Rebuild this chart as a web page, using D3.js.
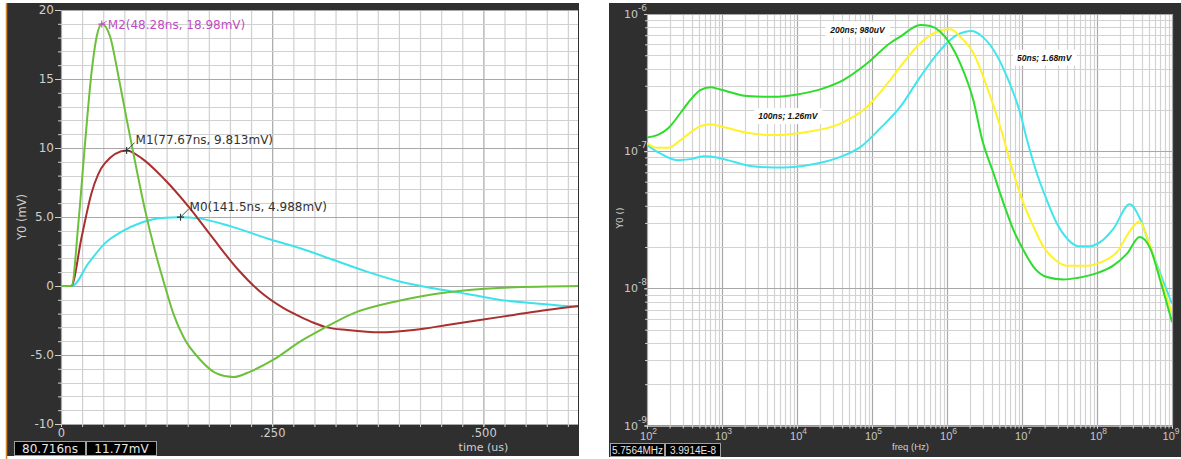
<!DOCTYPE html>
<html>
<head>
<meta charset="utf-8">
<script src="https://d3js.org/d3.v7.min.js"></script>
<style>
    body { margin: 0; background: #fff; }
    svg { display: block; }
</style>
</head>
<body>
<script>
    // ---- transient plot (time in us, value in mV)
    var pulseM2 = [[0, 0], [0.0125, 0], [0.0205, 4.5], [0.0284, 10.3], [0.0364, 15.6], [0.0423, 18.1],
        [0.0483, 18.98], [0.058, 18.1], [0.068, 15.2], [0.078, 12.0], [0.088, 8.9], [0.0995, 5.5],
        [0.111, 2.6], [0.123, 0], [0.133, -2.0], [0.145, -3.7], [0.165, -5.36], [0.184, -6.33],
        [0.204, -6.6], [0.224, -6.2], [0.251, -5.36], [0.283, -4.03], [0.307, -3.2], [0.346, -1.98],
        [0.40, -1.07], [0.458, -0.45], [0.518, -0.14], [0.612, 0]];
    var pulseM1 = [[0, 0], [0.012, 0], [0.0245, 3.57], [0.036, 6.7], [0.052, 8.9], [0.0777, 9.81],
        [0.0956, 9.25], [0.123, 7.7], [0.151, 5.75], [0.1785, 3.57], [0.21, 1.16], [0.238, -0.53],
        [0.262, -1.55], [0.283, -2.22], [0.299, -2.66], [0.315, -3.0], [0.339, -3.19], [0.378, -3.36],
        [0.417, -3.19], [0.457, -2.83], [0.496, -2.46], [0.536, -2.1], [0.575, -1.74], [0.612, -1.45]];
    var pulseM0 = [[0, 0], [0.013, 0], [0.0324, 1.64], [0.052, 3.09], [0.0719, 3.94], [0.0956, 4.6],
        [0.119, 4.93], [0.1415, 4.99], [0.163, 4.9], [0.202, 4.3], [0.25, 3.33], [0.283, 2.73],
        [0.323, 1.88], [0.362, 1.04], [0.402, 0.31], [0.441, -0.17], [0.481, -0.58], [0.52, -1.01],
        [0.56, -1.25], [0.599, -1.45], [0.612, -1.5]];
    var markers = [
        {name: "M2", t: 0.04828, v: 18.98, label: "M2(48.28ns, 18.98mV)"},
        {name: "M1", t: 0.07767, v: 9.813, label: "M1(77.67ns, 9.813mV)"},
        {name: "M0", t: 0.1415, v: 4.988, label: "M0(141.5ns, 4.988mV)"}
    ];
    var leftYTicks = [20, 15, 10, 5, 0, -5, -10];
    var leftYTickLabels = ["20", "15", "10", "5.0", "0", "-5.0", "-10"];
    var leftXTicks = [0, 0.25, 0.5];
    var leftXTickLabels = ["0", ".250", ".500"];
    var leftReadout = ["80.716ns", "11.77mV"];

    // ---- frequency plot (Hz, V)
    var resp200ns = [[100, 1.26e-7], [137, 1.31e-7], [192, 1.47e-7], [278, 1.89e-7], [378, 2.36e-7],
        [514, 2.79e-7], [698, 2.92e-7], [949, 2.82e-7], [2170, 2.52e-7], [4830, 2.49e-7], [10100, 2.59e-7],
        [22400, 2.87e-7], [41400, 3.30e-7], [86500, 4.37e-7], [175000, 6.14e-7], [238000, 6.83e-7],
        [440000, 8.32e-7], [598000, 8.17e-7], [815000, 7.43e-7], [1.5e6, 4.37e-7], [2.24e6, 2.36e-7],
        [2.96e6, 1.2e-7], [4.18e6, 6.87e-8], [5.69e6, 4.15e-8], [7.73e6, 2.65e-8], [1.05e7, 1.89e-8],
        [1.43e7, 1.43e-8], [2.15e7, 1.21e-8], [3.59e7, 1.16e-8], [5.41e7, 1.19e-8], [1.0e8, 1.29e-8],
        [1.66e8, 1.47e-8], [2.51e8, 1.79e-8], [3.7e8, 2.37e-8], [5.14e8, 1.95e-8], [6.98e8, 1.14e-8],
        [1e9, 5.67e-9]];
    var resp100ns = [[100, 1.14e-7], [136, 1.06e-7], [194, 1.06e-7], [278, 1.2e-7], [514, 1.52e-7],
        [698, 1.57e-7], [1050, 1.5e-7], [2150, 1.36e-7], [4880, 1.31e-7], [13600, 1.38e-7], [37800, 1.59e-7],
        [85700, 2.1e-7], [175000, 3.3e-7], [238000, 4.12e-7], [440000, 6.11e-7], [736000, 7.43e-7],
        [1.11e6, 7.73e-7], [1.5e6, 6.83e-7], [2.26e6, 5.16e-7], [3.41e6, 2.94e-7], [5.14e6, 1.5e-7],
        [7.73e6, 6.87e-8], [1.05e7, 4.15e-8], [1.43e7, 2.8e-8], [1.94e7, 2.0e-8], [2.64e7, 1.65e-8],
        [3.98e7, 1.46e-8], [7.36e7, 1.46e-8], [1.22e8, 1.58e-8], [1.85e8, 1.84e-8], [2.78e8, 2.65e-8],
        [3.7e8, 3.08e-8], [4.64e8, 2.37e-8], [6.31e8, 1.43e-8], [1e9, 6.53e-9]];
    var resp50ns = [[100, 1.11e-7], [150, 9.62e-8], [251, 8.59e-8], [378, 8.75e-8], [569, 9.2e-8],
        [858, 9.0e-8], [1430, 8.36e-8], [2380, 7.81e-8], [4880, 7.6e-8], [9010, 7.68e-8], [18500, 8.12e-8],
        [37800, 9.08e-8], [69800, 1.07e-7], [129000, 1.47e-7], [238000, 2.1e-7], [440000, 3.48e-7],
        [815000, 5.46e-7], [1.36e6, 7.03e-7], [2.15e6, 7.52e-7], [2.78e6, 7.03e-7], [4.18e6, 5.46e-7],
        [6.31e6, 3.48e-7], [9.49e6, 1.88e-7], [1.17e7, 1.2e-7], [1.58e7, 6.87e-8], [2.15e7, 4.38e-8],
        [2.93e7, 2.96e-8], [3.98e7, 2.31e-8], [5.69e7, 2.03e-8], [8.15e7, 2.03e-8], [1.11e8, 2.18e-8],
        [1.66e8, 2.73e-8], [2.72e8, 4.1e-8], [3.78e8, 3.19e-8], [5.14e8, 2.0e-8], [6.98e8, 1.28e-8],
        [1e9, 7.73e-9]];
    var rightNotes = [
        {text: "200ns; 980uV", f: 2.78e4, v: 7.7e-7},
        {text: "100ns; 1.26mV", f: 3.05e3, v: 1.8e-7},
        {text: "50ns; 1.68mV", f: 8.58e6, v: 4.8e-7}
    ];
    var rightXDecades = [2, 3, 4, 5, 6, 7, 8, 9];
    var rightYDecades = [-6, -7, -8, -9];
    var rightReadout = ["5.7564MHz", "3.9914E-8"];

    var SVGWidth = 1181;
    var SVGHeight = 459;
    var panelColor = "#2f2f2f";
    var labelColor = "#d0d0d0";
    var dejavu = "'DejaVu Sans', Verdana, sans-serif";
    var liberation = "'Liberation Sans', Arial, sans-serif";

    var svg = d3.select("body")
        .append("svg")
        .attr("width", SVGWidth)
        .attr("height", SVGHeight);

    // ================= LEFT: transient =================
    var lx = d3.scaleLinear().domain([0, 0.612]).range([61, 578]);
    var ly = d3.scaleLinear().domain([-10, 20]).range([424, 10]);

    svg.append("rect").attr("x", 7).attr("y", 3).attr("width", 572).attr("height", 453)
        .attr("fill", panelColor);
    svg.append("line").attr("x1", 6.5).attr("x2", 6.5).attr("y1", 3).attr("y2", 459)
        .attr("stroke", "#d8862e").attr("stroke-width", 1.5);
    svg.append("rect").attr("x", lx(0)).attr("y", ly(20))
        .attr("width", lx(0.612) - lx(0)).attr("height", ly(-10) - ly(20))
        .attr("fill", "#fff");

    svg.append("clipPath").attr("id", "clipL").append("rect")
        .attr("x", lx(0)).attr("y", ly(20))
        .attr("width", lx(0.612) - lx(0)).attr("height", ly(-10) - ly(20));

    var gridL = svg.append("g");
    gridL.selectAll(".vg").data(d3.range(0, 25))
        .enter().append("line")
        .attr("x1", function(i) { return lx(i * 0.025) + 0.5; })
        .attr("x2", function(i) { return lx(i * 0.025) + 0.5; })
        .attr("y1", ly(20)).attr("y2", ly(-10))
        .attr("stroke", function(i) { return i % 10 === 0 ? "#a8a8a8" : "#d0d0d0"; })
        .attr("stroke-width", 1.2);
    gridL.selectAll(".hg").data(d3.range(-10, 21))
        .enter().append("line")
        .attr("x1", lx(0)).attr("x2", lx(0.612))
        .attr("y1", function(d) { return Math.round(ly(d)) + 0.5; })
        .attr("y2", function(d) { return Math.round(ly(d)) + 0.5; })
        .attr("stroke", function(d) { return d % 5 === 0 ? "#a8a8a8" : "#d0d0d0"; })
        .attr("stroke-width", 1.2);

    function styleAxis(g, font, size) {
        g.select(".domain").remove();
        g.attr("font-family", font).attr("font-size", size);
        g.selectAll("text").attr("fill", labelColor);
        g.selectAll("line").attr("stroke", labelColor);
    }

    svg.append("g").attr("transform", "translate(" + lx(0) + ",0)")
        .call(d3.axisLeft(ly).tickValues(d3.range(-10, 21)).tickFormat("").tickSize(3))
        .call(styleAxis, dejavu, 12);
    svg.append("g").attr("transform", "translate(" + lx(0) + ",0)")
        .call(d3.axisLeft(ly).tickValues(leftYTicks)
            .tickFormat(function(d, i) { return leftYTickLabels[i]; })
            .tickSize(6).tickPadding(1))
        .call(styleAxis, dejavu, 12);
    svg.append("g").attr("transform", "translate(0," + ly(-10) + ")")
        .call(d3.axisBottom(lx).tickValues(d3.range(0, 25).map(function(i) { return i * 0.025; }))
            .tickFormat("").tickSize(3))
        .call(styleAxis, dejavu, 12);
    svg.append("g").attr("transform", "translate(0," + ly(-10) + ")")
        .call(d3.axisBottom(lx).tickValues(leftXTicks)
            .tickFormat(function(d, i) { return leftXTickLabels[i]; })
            .tickSize(3).tickPadding(1.5))
        .call(styleAxis, dejavu, 11.5);

    svg.append("text").attr("x", lx(0.5)).attr("y", 450.5)
        .attr("text-anchor", "middle").attr("font-family", dejavu).attr("font-size", 11)
        .attr("fill", labelColor).text("time (us)");
    svg.append("text").attr("transform", "translate(26,217) rotate(-90)")
        .attr("text-anchor", "middle").attr("font-family", dejavu).attr("font-size", 11.5)
        .attr("fill", labelColor).text("Y0 (mV)");

    var lineL = d3.line()
        .x(function(d) { return lx(d[0]); })
        .y(function(d) { return ly(d[1]); })
        .curve(d3.curveMonotoneX);
    var curvesL = svg.append("g").attr("clip-path", "url(#clipL)");
    [[pulseM0, "#3de3ea"], [pulseM1, "#a8302e"], [pulseM2, "#6cc03a"]].forEach(function(s) {
        curvesL.append("path").attr("d", lineL(s[0]))
            .attr("fill", "none").attr("stroke", s[1]).attr("stroke-width", 2);
    });

    // markers
    var markerStyle = {
        M2: {color: "#c04cc4", lead: [5, -3], text: [6, 4.5]},
        M1: {color: "#333333", lead: [8, -8], text: [9, -7]},
        M0: {color: "#333333", lead: [8, -8], text: [9, -6.5]}
    };
    markers.forEach(function(m) {
        var st = markerStyle[m.name];
        var cx = lx(m.t), cy = ly(m.v);
        var g = svg.append("g");
        g.append("path")
            .attr("d", "M" + (cx - 3.5) + "," + cy + "H" + (cx + 3.5) + "M" + cx + "," + (cy - 3.5) + "V" + (cy + 3.5))
            .attr("stroke", st.color).attr("stroke-width", 1.1);
        g.append("line").attr("x1", cx).attr("y1", cy)
            .attr("x2", cx + st.lead[0]).attr("y2", cy + st.lead[1])
            .attr("stroke", st.color).attr("stroke-width", 0.9);
        g.append("text").attr("x", cx + st.text[0]).attr("y", cy + st.text[1])
            .attr("font-family", dejavu).attr("font-size", 12)
            .attr("fill", st.color).text(m.label);
    });

    function readout(x, y, widths, h, texts, font, size) {
        var xs = x;
        texts.forEach(function(t, i) {
            svg.append("rect").attr("x", xs + 0.5).attr("y", y + 0.5)
                .attr("width", widths[i]).attr("height", h)
                .attr("fill", "#000").attr("stroke", "#a0a0a0").attr("stroke-width", 1);
            svg.append("text").attr("x", xs + widths[i] / 2 + 0.5).attr("y", y + h / 2 + 0.5)
                .attr("dy", "0.36em").attr("text-anchor", "middle")
                .attr("font-family", font).attr("font-size", size)
                .attr("fill", "#e6e6e6").text(t);
            xs += widths[i] + 1;
        });
    }
    readout(14, 441, [71, 70], 14, leftReadout, dejavu, 12);

    // ================= RIGHT: frequency =================
    var rx = d3.scaleLog().domain([1e2, 1e9]).range([647, 1172]);
    var ry = d3.scaleLog().domain([1e-9, 1e-6]).range([425.5, 14]);

    svg.append("rect").attr("x", 609).attr("y", 3).attr("width", 572).attr("height", 454)
        .attr("fill", panelColor);
    svg.append("rect").attr("x", rx(1e2)).attr("y", ry(1e-6))
        .attr("width", rx(1e9) - rx(1e2)).attr("height", ry(1e-9) - ry(1e-6))
        .attr("fill", "#fff");
    svg.append("clipPath").attr("id", "clipR").append("rect")
        .attr("x", rx(1e2)).attr("y", ry(1e-6))
        .attr("width", rx(1e9) - rx(1e2)).attr("height", ry(1e-9) - ry(1e-6));

    var xMinor = [], yMinor = [];
    d3.range(2, 9).forEach(function(e) {
        d3.range(1, 10).forEach(function(k) { xMinor.push({v: k * Math.pow(10, e), major: k === 1}); });
    });
    xMinor.push({v: 1e9, major: true});
    d3.range(-9, -6).forEach(function(e) {
        d3.range(1, 10).forEach(function(k) { yMinor.push({v: k * Math.pow(10, e), major: k === 1}); });
    });
    yMinor.push({v: 1e-6, major: true});

    var gridR = svg.append("g");
    gridR.selectAll(".vg").data(xMinor).enter().append("line")
        .attr("x1", function(d) { return Math.round(rx(d.v)) + 0.5; })
        .attr("x2", function(d) { return Math.round(rx(d.v)) + 0.5; })
        .attr("y1", ry(1e-6)).attr("y2", ry(1e-9))
        .attr("stroke", function(d) { return d.major ? "#a8a8a8" : "#d2d2d2"; })
        .attr("stroke-width", 1.2);
    gridR.selectAll(".hg").data(yMinor).enter().append("line")
        .attr("x1", rx(1e2)).attr("x2", rx(1e9))
        .attr("y1", function(d) { return Math.round(ry(d.v)) + 0.5; })
        .attr("y2", function(d) { return Math.round(ry(d.v)) + 0.5; })
        .attr("stroke", function(d) { return d.major ? "#a8a8a8" : "#d2d2d2"; })
        .attr("stroke-width", 1.2);

    svg.append("g").attr("transform", "translate(" + rx(1e2) + ",0)")
        .call(d3.axisLeft(ry).tickValues(yMinor.map(function(d) { return d.v; })).tickFormat("").tickSize(2))
        .call(styleAxis, dejavu, 11);
    svg.append("g").attr("transform", "translate(0," + ry(1e-9) + ")")
        .call(d3.axisBottom(rx).tickValues(xMinor.map(function(d) { return d.v; })).tickFormat("").tickSize(3))
        .call(styleAxis, dejavu, 11);

    // power-of-ten labels
    var yLab = svg.append("g").attr("transform", "translate(" + rx(1e2) + ",0)")
        .call(d3.axisLeft(ry).tickValues(rightYDecades.map(function(e) { return Math.pow(10, e); }))
            .tickFormat("").tickSize(3))
        .call(styleAxis, dejavu, 11);
    yLab.selectAll(".tick").each(function(d, i) {
        var t = d3.select(this).append("text").attr("x", 0).attr("y", 3.5)
            .attr("text-anchor", "end").attr("fill", "#c8c8c8");
        t.append("tspan").text("10");
        t.append("tspan").attr("dy", -7).attr("font-size", 9).text(rightYDecades[i]);
    });
    var xLab = svg.append("g").attr("transform", "translate(0," + ry(1e-9) + ")")
        .call(d3.axisBottom(rx).tickValues(rightXDecades.map(function(e) { return Math.pow(10, e); }))
            .tickFormat("").tickSize(3))
        .call(styleAxis, liberation, 11);
    xLab.selectAll(".tick").each(function(d, i) {
        var last = i === rightXDecades.length - 1;
        var t = d3.select(this).append("text").attr("x", last ? 7 : 1).attr("y", 14)
            .attr("text-anchor", last ? "end" : "middle").attr("fill", "#c8c8c8");
        t.append("tspan").text("10");
        t.append("tspan").attr("dy", -6).attr("font-size", 8.5).text(rightXDecades[i]);
    });

    svg.append("text").attr("x", 892).attr("y", 450)
        .attr("font-family", liberation).attr("font-size", 9.5)
        .attr("fill", labelColor).text("freq (Hz)");
    svg.append("text").attr("transform", "translate(623,218) rotate(-90)")
        .attr("text-anchor", "middle").attr("font-family", dejavu).attr("font-size", 9)
        .attr("fill", labelColor).text("Y0 ()");

    var lineR = d3.line()
        .x(function(d) { return rx(d[0]); })
        .y(function(d) { return ry(d[1]); })
        .curve(d3.curveMonotoneX);
    var curvesR = svg.append("g").attr("clip-path", "url(#clipR)");
    [[resp50ns, "#40e6ec"], [resp100ns, "#fff22a"], [resp200ns, "#2ddc2d"]].forEach(function(s) {
        curvesR.append("path").attr("d", lineR(s[0]))
            .attr("fill", "none").attr("stroke", s[1]).attr("stroke-width", 2);
    });

    rightNotes.forEach(function(n) {
        var g = svg.append("g");
        var t = g.append("text").attr("x", rx(n.f)).attr("y", ry(n.v))
            .attr("dy", "0.35em")
            .attr("font-family", liberation).attr("font-size", 8.5)
            .attr("font-weight", "bold").attr("font-style", "italic")
            .attr("fill", "#111").text(n.text);
        var b = t.node().getBBox();
        g.insert("rect", "text").attr("x", b.x - 4).attr("y", b.y - 3)
            .attr("width", b.width + 8).attr("height", b.height + 6).attr("fill", "#fff");
    });

    readout(610, 443, [54, 55], 13, rightReadout, liberation, 10);
</script>
</body>
</html>
